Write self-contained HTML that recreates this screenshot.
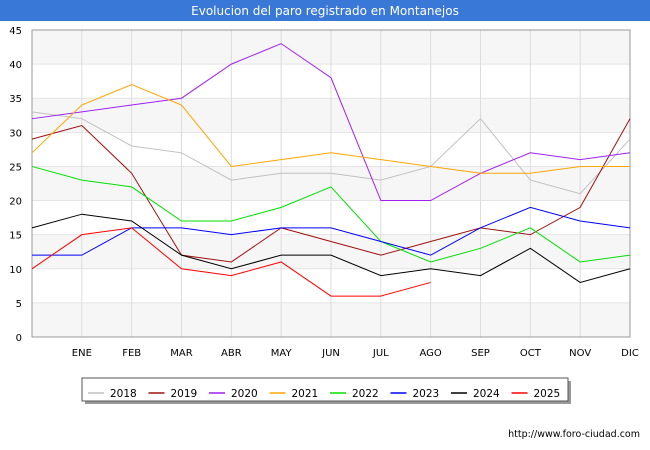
<!DOCTYPE html>
<html><head><meta charset="utf-8"><style>
body{margin:0;width:650px;height:450px;background:#fff;font-family:"DejaVu Sans","Liberation Sans",sans-serif;overflow:hidden}
svg{display:block}
</style></head><body>
<svg width="650" height="450">
<rect x="0" y="0" width="650" height="21" fill="#3a78d8"/>
<text x="325" y="15" text-anchor="middle" fill="#fff" font-size="12">Evolucion del paro registrado en Montanejos</text>
<g id="plot"></g>
<g id="legend"></g>
<text x="640" y="437" text-anchor="end" font-size="9.5" fill="#000">http://www.foro-ciudad.com</text>
</svg>
<script>
const months=["","ENE","FEB","MAR","ABR","MAY","JUN","JUL","AGO","SEP","OCT","NOV","DIC"];
const yTicks=[0,5,10,15,20,25,30,35,40,45];
const years=["2018","2019","2020","2021","2022","2023","2024","2025"];
const colors=["#c0c0c0","#a01010","#a020f0","#ffa500","#00e000","#0000ff","#000000","#ff0000"];
const s2018=[33,32,28,27,23,24,24,23,25,32,23,21,29];
const s2019=[29,31,24,12,11,16,14,12,14,16,15,19,32];
const s2020=[32,33,34,35,40,43,38,20,20,24,27,26,27];
const s2021=[27,34,37,34,25,26,27,26,25,24,24,25,25];
const s2022=[25,23,22,17,17,19,22,14,11,13,16,11,12];
const s2023=[12,12,16,16,15,16,16,14,12,16,19,17,16];
const s2024=[16,18,17,12,10,12,12,9,10,9,13,8,10];
const s2025=[10,15,16,10,9,11,6,6,8];
const series=[s2018,s2019,s2020,s2021,s2022,s2023,s2024,s2025];
const NS="http://www.w3.org/2000/svg";
const X0=32,X1=630,Y0=337,Y1=30,YMAX=45;
const xs=i=>X0+i*(X1-X0)/12;
const ys=v=>Y0-v*(Y0-Y1)/YMAX;
function mk(t,a,p){const e=document.createElementNS(NS,t);for(const k in a)e.setAttribute(k,a[k]);p.appendChild(e);return e;}
const g=document.getElementById('plot');
for(let i=0;i<yTicks.length-1;i+=2){
 const r=mk('rect',{x:X0,y:ys(yTicks[i+1]),width:X1-X0,height:ys(yTicks[i])-ys(yTicks[i+1]),fill:'#f6f6f6'},g);
 
 
}
yTicks.forEach(v=>{
 const l=mk('line',{x1:X0,x2:X1,y1:ys(v),y2:ys(v),stroke:'#e4e4e4'},g);
 
 
 const t=mk('text',{x:22,y:ys(v)+4,'text-anchor':'end','font-size':10},g);t.textContent=v;
 
 
});
months.forEach((m,i)=>{
 const l=mk('line',{x1:xs(i),x2:xs(i),y1:Y1,y2:Y0,stroke:'#dcdcdc'},g);
 
 
 if(m){const t=mk('text',{x:xs(i),y:356,'text-anchor':'middle','font-size':10},g);t.textContent=m;
 
 }
});
const ax=mk('rect',{x:X0,y:Y1,width:X1-X0,height:Y0-Y1,fill:'none',stroke:'#999'},g);


series.forEach((s,k)=>{
 const p=mk('polyline',{points:s.map((v,i)=>xs(i)+','+ys(v)).join(' '),fill:'none',stroke:colors[k],'stroke-width':1},g);
 
 
});
const lg=document.getElementById('legend');
mk('rect',{x:85,y:381,width:486,height:23,fill:'#999'},lg);
const box=mk('rect',{x:82,y:378,width:486,height:23,fill:'#fff',stroke:'#555'},lg);


years.forEach((y,k)=>{
 const x0=88+k*60.5;
 const l=mk('line',{x1:x0,x2:x0+16,y1:393,y2:393,stroke:colors[k],'stroke-width':1.5},lg);
 
 
 const t=mk('text',{x:x0+22,y:397,'font-size':10.5},lg);t.textContent=y;
 
 
});
</script>
</body></html>
